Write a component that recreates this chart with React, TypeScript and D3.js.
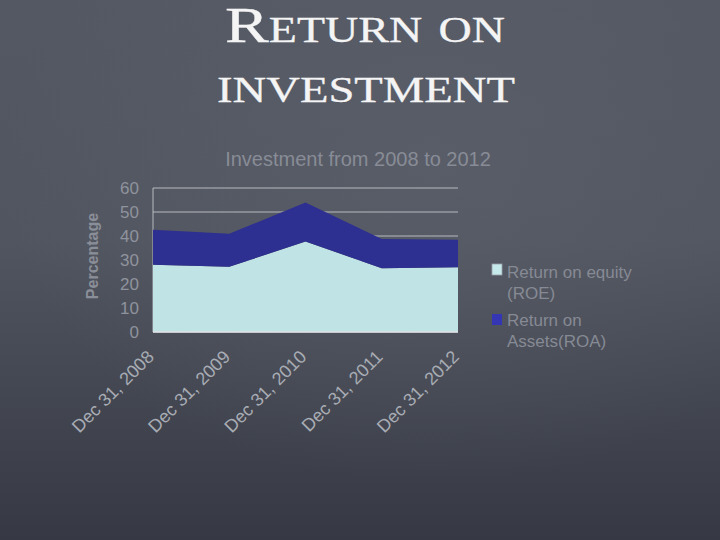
import React from "react";
import * as d3 from "d3";

const categories = ["Dec 31, 2008", "Dec 31, 2009", "Dec 31, 2010", "Dec 31, 2011", "Dec 31, 2012"];
const roe = [28, 27.2, 37.7, 26.6, 27];
const roa = [14.6, 13.7, 16.3, 12.1, 11.4];
const yTicks = [0, 10, 20, 30, 40, 50, 60];

const W = 720;
const H = 540;

export default function App() {
  const x = d3.scalePoint<string>().domain(categories).range([153, 458]);
  const y = d3.scaleLinear().domain([0, 60]).range([332, 188]);

  const rows = categories.map((c, i) => ({ cat: c, roe: roe[i], roa: roa[i] }));
  const stacked = d3.stack<any>().keys(["roe", "roa"])(rows);
  const area = d3
    .area<any>()
    .x((d) => x(d.data.cat) as number)
    .y0((d) => y(d[0]))
    .y1((d) => y(d[1]));
  const colors = ["#c0e3e6", "#2d2f91"];
  const legendColors = ["#c6eaec", "#3436b4"];

  const font = "'Liberation Sans', Arial, sans-serif";
  const serif = "'Liberation Serif', 'DejaVu Serif', serif";

  return (
    <svg
      width={W}
      height={H}
      style={{ position: "absolute", left: 0, top: 0, display: "block" }}
    >
      <defs>
        <linearGradient id="bg" x1="0" y1="0" x2="0" y2="1">
          <stop offset="0%" stopColor="#545863" />
          <stop offset="45%" stopColor="#51555f" />
          <stop offset="100%" stopColor="#363943" />
        </linearGradient>
        <radialGradient id="glow" cx="0.6" cy="0.3" r="0.6">
          <stop offset="0%" stopColor="#606470" stopOpacity="0.5" />
          <stop offset="100%" stopColor="#606470" stopOpacity="0" />
        </radialGradient>
      </defs>
      <rect x={0} y={0} width={W} height={H} fill="url(#bg)" />
      <rect x={0} y={0} width={W} height={H} fill="url(#glow)" />

      {/* Slide title */}
      <text
        x={365}
        y={42}
        textAnchor="middle"
        fill="#f4f4f4"
        stroke="#f4f4f4"
        strokeWidth={0.3}
        style={{ fontFamily: serif, fontSize: 50, fontVariant: "small-caps" }}
        textLength={280}
        lengthAdjust="spacingAndGlyphs"
      >
        Return on
      </text>
      <text
        x={366}
        y={102}
        textAnchor="middle"
        fill="#f4f4f4"
        stroke="#f4f4f4"
        strokeWidth={0.3}
        style={{ fontFamily: serif, fontSize: 52, fontVariant: "small-caps" }}
        textLength={298}
        lengthAdjust="spacingAndGlyphs"
      >
        investment
      </text>

      {/* Chart title */}
      <text x={358} y={166} textAnchor="middle" fill="#888c96" style={{ fontFamily: font, fontSize: 20 }}>
        Investment from 2008 to 2012
      </text>

      {/* Gridlines */}
      {yTicks.map((t) => (
        <line key={t} x1={153} x2={458} y1={y(t)} y2={y(t)} stroke="#d0d2d6" strokeOpacity={0.8} strokeWidth={1} />
      ))}
      <line x1={153} x2={153} y1={y(60)} y2={y(0)} stroke="#d0d2d6" strokeOpacity={0.8} />

      {/* Areas */}
      {stacked.map((s, i) => (
        <path key={s.key} d={area(s) as string} fill={colors[i]} />
      ))}
      <line x1={153} x2={458} y1={y(0)} y2={y(0)} stroke="#e0e2e6" strokeWidth={1.5} />

      {/* Y tick labels */}
      {yTicks.map((t) => (
        <text key={t} x={139} y={y(t) + 6} textAnchor="end" fill="#8f939d" style={{ fontFamily: font, fontSize: 17 }}>
          {t}
        </text>
      ))}

      {/* Y axis title */}
      <text
        transform={`translate(98,256) rotate(-90)`}
        textAnchor="middle"
        fill="#8a8e98"
        style={{ fontFamily: font, fontSize: 16, fontWeight: "bold" }}
      >
        Percentage
      </text>

      {/* X tick labels */}
      {categories.map((c) => (
        <text
          key={c}
          transform={`translate(${(x(c) as number) + 2},358) rotate(-45)`}
          textAnchor="end"
          fill="#a8acb4"
          style={{ fontFamily: font, fontSize: 18 }}
        >
          {c}
        </text>
      ))}

      {/* Legend */}
      <rect x={492} y={264} width={10} height={11} fill={legendColors[0]} stroke="#9aa0a8" strokeWidth={0.8} />
      <rect x={492} y={314} width={10} height={11} fill={legendColors[1]} />
      <text fill="#868a94" style={{ fontFamily: font, fontSize: 17 }}>
        <tspan x={507} y={278}>Return on equity</tspan>
        <tspan x={507} y={299}>(ROE)</tspan>
      </text>
      <text fill="#868a94" style={{ fontFamily: font, fontSize: 17 }}>
        <tspan x={507} y={326}>Return on</tspan>
        <tspan x={507} y={347}>Assets(ROA)</tspan>
      </text>
    </svg>
  );
}
